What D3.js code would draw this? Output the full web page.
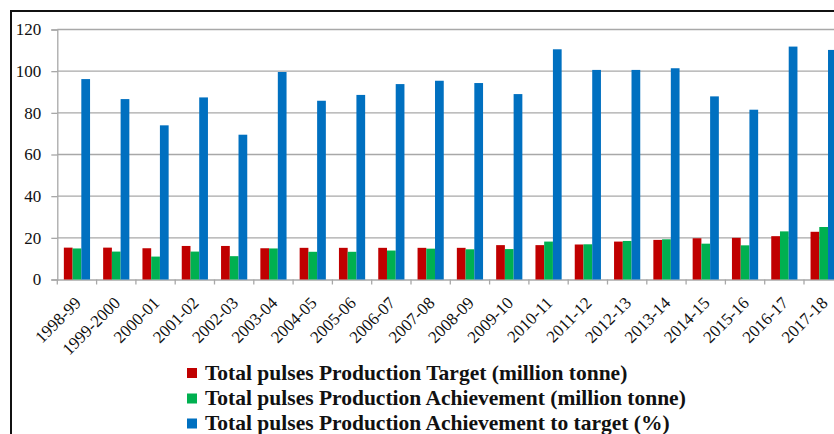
<!DOCTYPE html>
<html><head><meta charset="utf-8">
<script src="https://cdn.jsdelivr.net/npm/d3@7"></script>
<style>html,body{margin:0;padding:0;background:#fff;overflow:hidden}
svg text{font-family:"Liberation Serif","Times New Roman",serif}</style>
</head><body>
<svg id="c" width="834" height="434"></svg>
<script>
const categories = ["1998-99","1999-2000","2000-01","2001-02","2002-03","2003-04","2004-05","2005-06","2006-07","2007-08","2008-09","2009-10","2010-11","2011-12","2012-13","2013-14","2014-15","2015-16","2016-17","2017-18"];
const target = [15.3,15.3,15.0,16.1,16.1,15.0,15.2,15.2,15.2,15.2,15.2,16.5,16.5,16.8,18.2,19.0,19.8,20.0,20.8,22.9];
const achievement = [14.9,13.4,11.0,13.4,11.2,14.9,13.3,13.3,13.9,14.8,14.5,14.6,18.2,16.9,18.5,19.3,17.2,16.4,23.1,25.2];
const percentTarget = [96.2,86.6,74.0,87.4,69.5,99.6,85.8,88.6,93.8,95.4,94.3,89.0,110.5,100.6,100.6,101.4,87.9,81.5,111.8,110.2];
const seriesNames = ["Total pulses Production Target (million tonne)","Total pulses Production Achievement (million tonne)","Total pulses Production Achievement to target (%)"];
const seriesColors = ["#C00000","#00B050","#0070C0"];
const yTicks = [0,20,40,60,80,100,120];

const svg = d3.select("#c");
const serif = '"Liberation Serif","Times New Roman",serif';
const plotLeft = 57.3, step = 39.3, plotTop = 29.5, plotBottom = 279.5;

// outer frame
svg.append("rect").attr("x",11).attr("y",11).attr("width",1000).attr("height",600)
  .attr("fill","none").attr("stroke","#111").attr("stroke-width",2);

const x = d3.scaleBand().domain(categories).range([plotLeft, plotLeft + step*categories.length]).padding(0);
const y = d3.scaleLinear().domain([0,120]).range([plotBottom, plotTop]);
const w = x.bandwidth()/4.5;
const x1 = d3.scaleBand().domain([0,1,2]).range([0.75*w, 3.75*w]).padding(0);

// gridlines
svg.append("g").selectAll("line").data(yTicks.filter(d=>d>0)).join("line")
  .attr("x1",plotLeft).attr("x2",900).attr("y1",d=>y(d)).attr("y2",d=>y(d))
  .attr("stroke","#a8a8a8").attr("stroke-width",1.3);

// y axis
const ya = svg.append("g").attr("transform",`translate(${plotLeft},0)`)
  .call(d3.axisLeft(y).tickValues(yTicks).tickSize(6).tickPadding(10));
ya.attr("font-family",null).attr("font-size",null);
ya.select(".domain").attr("stroke","#a8a8a8").attr("stroke-width",1.3);
ya.selectAll(".tick line").attr("stroke","#a8a8a8").attr("stroke-width",1.3);
ya.selectAll("text").style("font-family",serif).style("font-size","17px").attr("fill","#111");

// x axis
const xa = svg.append("g").attr("transform",`translate(0,${plotBottom})`)
  .call(d3.axisBottom(x).tickSize(0).tickFormat(""));
xa.select(".domain").attr("stroke","#a8a8a8").attr("stroke-width",1.3);
svg.append("g").selectAll("line").data(categories).join("line")
  .attr("x1",d=>x(d)).attr("x2",d=>x(d)).attr("y1",plotBottom).attr("y2",plotBottom+5)
  .attr("stroke","#a8a8a8").attr("stroke-width",1.3);
svg.append("g").selectAll("text").data(categories).join("text")
  .attr("transform",d=>`translate(${x(d)+x.bandwidth()/2+5},304) rotate(-45)`)
  .attr("text-anchor","end").style("font-family",serif).style("font-size","17px").attr("fill","#111")
  .text(d=>d);

// bars
const series = [target, achievement, percentTarget];
series.forEach((vals,si)=>{
  svg.append("g").selectAll("rect").data(vals).join("rect")
    .attr("x",(d,i)=>x(categories[i])+x1(si))
    .attr("width",x1.bandwidth())
    .attr("y",d=>y(d)).attr("height",d=>plotBottom-y(d))
    .attr("fill",seriesColors[si]);
});

// legend
const lg = svg.append("g");
const rowsY = [379.5,405,430];
seriesNames.forEach((n,i)=>{
  lg.append("rect").attr("x",187).attr("y",rowsY[i]-11.5).attr("width",10).attr("height",10).attr("fill",seriesColors[i]);
  lg.append("text").attr("x",205).attr("y",rowsY[i]).style("font-family",serif).style("font-weight","bold")
    .style("font-size","21.5px").attr("fill","#111").text(n);
});
</script>
</body></html>
